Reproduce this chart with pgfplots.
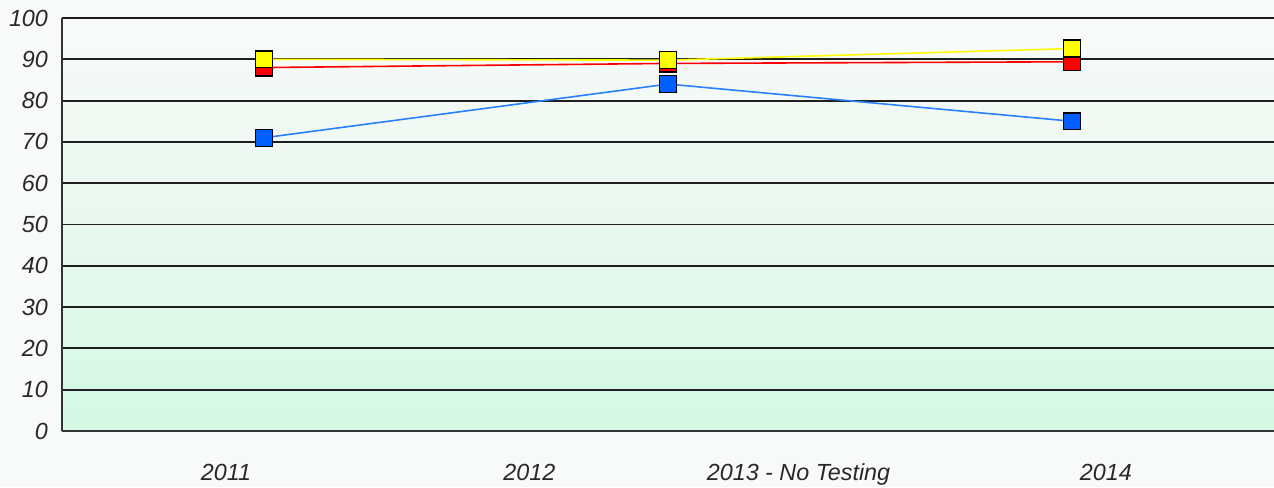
\documentclass[border=0pt]{standalone}
\usepackage{fontspec}
\setmainfont{Liberation Sans}
\usepackage{pgfplots}
\pgfplotsset{compat=1.18}
\definecolor{bgout}{RGB}{248,249,249}
\definecolor{bgtop}{RGB}{248,250,249}
\definecolor{bgmid}{RGB}{234,248,240}
\definecolor{bgbot}{RGB}{211,248,227}
\definecolor{ticktext}{RGB}{40,40,40}
\definecolor{myyellow}{RGB}{255,255,0}
\definecolor{myred}{RGB}{255,0,0}
\definecolor{myblue}{RGB}{0,96,255}
\definecolor{blueline}{RGB}{40,130,255}
\begin{document}
\begin{tikzpicture}
\fill[bgout] (-46.5pt,-42pt) rectangle (909pt,323.25pt);
\path[use as bounding box] (-46.5pt,-42pt) rectangle (909pt,323.25pt);
\begin{axis}[
  at={(0pt,0pt)}, anchor=south west,
  scale only axis, width=909pt, height=309.75pt,
  xmin=-0.5, xmax=2.5, ymin=0, ymax=100,
  ytick={0,10,...,100},
  xtick={-0.094,0.657,1.323,2.084},
  xticklabels={2011,2012,2013 - No Testing,2014},
  axis x line=bottom, axis y line=left,
  axis line style={-, line width=1.6pt, color={black!80}},
  ymajorgrids, major grid style={line width=1.4pt, black!88},
  major tick length=0pt, tick style={draw=none},
  tick label style={font=\fontsize{17.5}{20}\selectfont\itshape, text=ticktext},
  /pgf/number format/assume math mode=true,
  yticklabel style={xshift=-7pt},
  xticklabel style={yshift=-21pt},
  axis background/.style={top color=bgtop, bottom color=bgbot, middle color=bgmid},
  clip=false,
]
\addplot[blueline, line width=1.2pt, mark=square*, mark size=6.3pt, mark options={solid, draw=black, line width=1pt, fill=myblue}]
  coordinates {(0,71) (1,84) (2,75)};
\addplot[myred, line width=1.2pt, mark=square*, mark size=6.3pt, mark options={solid, draw=black, line width=1pt, fill=myred}]
  coordinates {(0,88) (1,89) (2,89.4)};
\addplot[myyellow, line width=1.2pt, mark=square*, mark size=6.3pt, mark options={solid, draw=black, line width=1pt, fill=myyellow}]
  coordinates {(0,90) (1,89.8) (2,92.6)};
\end{axis}
\end{tikzpicture}
\end{document}
